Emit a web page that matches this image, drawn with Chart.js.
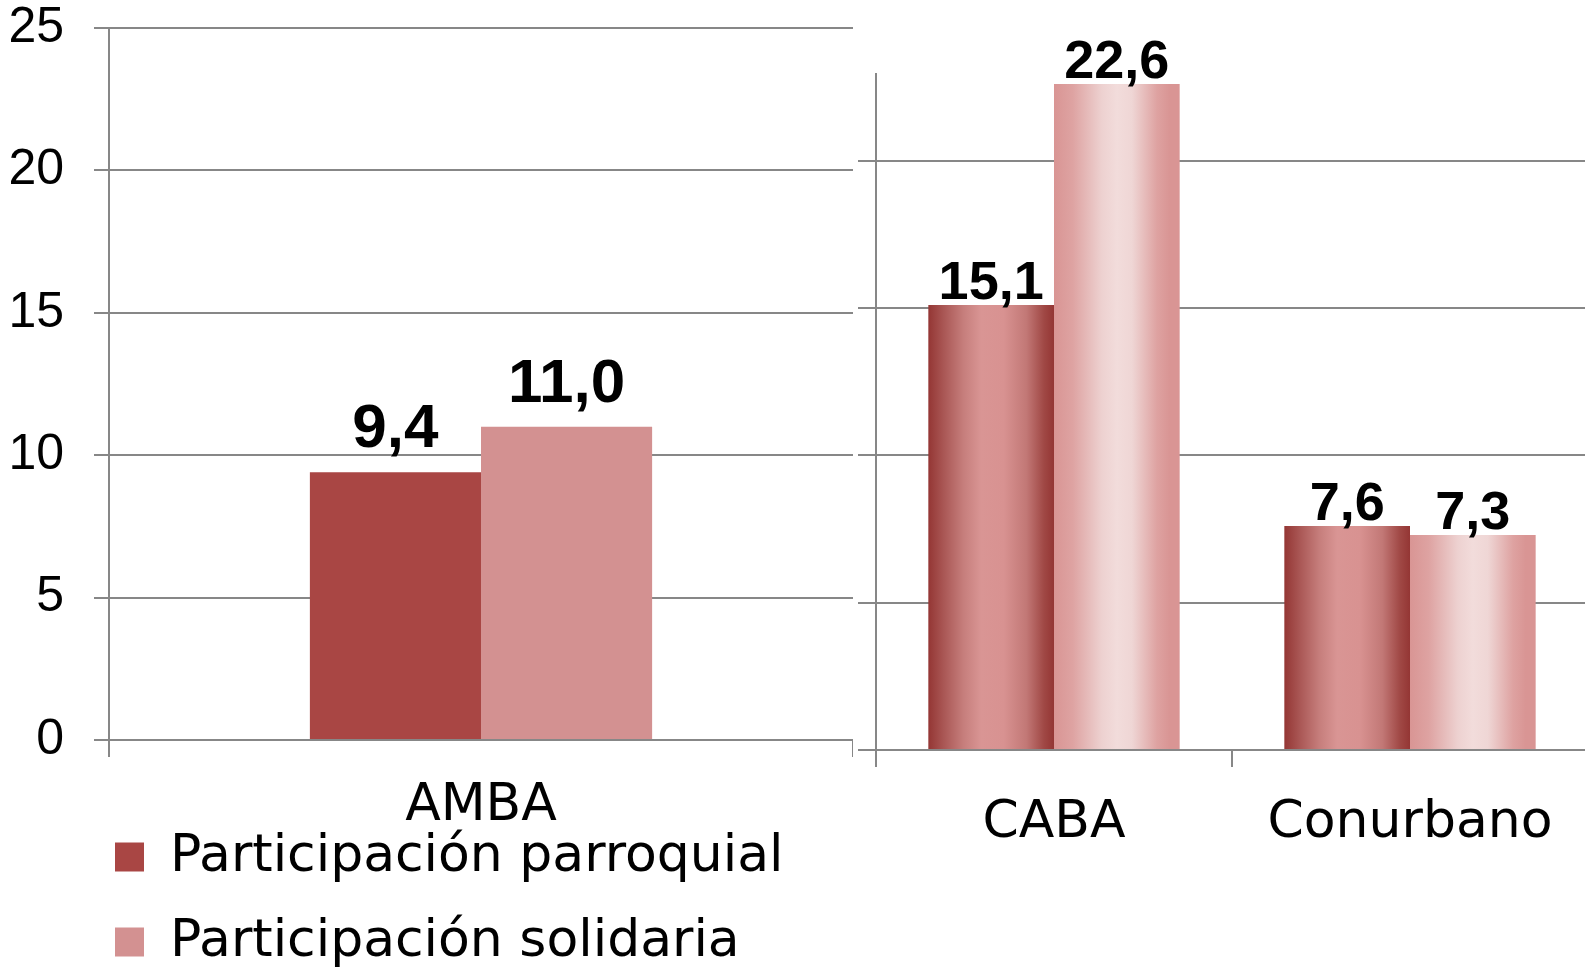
<!DOCTYPE html>
<html>
<head>
<meta charset="utf-8">
<script src="https://cdn.jsdelivr.net/npm/chart.js@4.4.1/dist/chart.umd.min.js"></script>
<style>
  html, body { margin: 0; padding: 0; background: #fff; overflow: hidden; width: 1585px; height: 968px; }
  #amba-chart { position: absolute; left: 0; top: 0; }
  #split-chart { position: absolute; left: 840px; top: 0; }
  #legend-chart { position: absolute; left: 82px; top: 798px; }
</style>
</head>
<body>
<canvas id="amba-chart" width="853" height="968"></canvas>
<canvas id="split-chart" width="748" height="968"></canvas>
<canvas id="legend-chart" width="720" height="420"></canvas>
<script>
// data
const seriesNames = ['Participación parroquial', 'Participación solidaria']
const ambaLabels = ['AMBA']
const ambaParroquial = [9.4]
const ambaSolidaria = [11.0]
const splitLabels = ['CABA', 'Conurbano']
const splitParroquial = [15.1, 7.6]
const splitSolidaria = [22.6, 7.3]

const gridColor = '#878787'
const parroquialColor = '#A94644'
const solidariaColor = '#D39191'

// value labels above the bars, decimal comma
const barLabels = {
    id: 'barLabels',
    afterDatasetsDraw(chart, args, opts) {
        if (!opts.font) return
        const ctx = chart.ctx
        ctx.save()
        ctx.font = opts.font
        ctx.fillStyle = '#000'
        ctx.textAlign = 'center'
        ctx.textBaseline = 'alphabetic'
        chart.data.datasets.forEach((ds, i) => {
            chart.getDatasetMeta(i).data.forEach((bar, j) => {
                ctx.fillText(ds.data[j].toFixed(1).replace('.', ','), bar.x, bar.y - opts.offset)
            })
        })
        ctx.restore()
    }
}

// horizontal "cylinder" gradient per bar
function barGradient(stops, catPct) {
    return (c) => {
        const chart = c.chart
        const x = chart.scales.x
        if (!x || c.dataIndex === undefined || !x.width) return stops[0][1]
        const cat = x.width / chart.data.labels.length
        const group = cat * catPct
        const w = group / chart.data.datasets.length
        const left = x.getPixelForValue(c.dataIndex) - group / 2 + c.datasetIndex * w
        const g = chart.ctx.createLinearGradient(left, 0, left + w, 0)
        stops.forEach(s => g.addColorStop(s[0], s[1]))
        return g
    }
}

//? AMBA chart
const ambaCatPct = 0.46

const configAmba = {
    type: 'bar',
    data: {
        labels: ambaLabels,
        datasets: [
            { label: seriesNames[0], data: ambaParroquial, backgroundColor: parroquialColor, borderWidth: 0 },
            { label: seriesNames[1], data: ambaSolidaria, backgroundColor: solidariaColor, borderWidth: 0 }
        ]
    },
    options: {
        responsive: false,
        animation: false,
        categoryPercentage: ambaCatPct,
        barPercentage: 1,
        layout: { padding: { left: 0, top: 28, right: 0, bottom: 0 } },
        scales: {
            x: {
                grid: { drawOnChartArea: false, color: gridColor, lineWidth: 2, tickLength: 17 },
                border: { display: false },
                ticks: { color: '#000', padding: 18, font: { family: 'DejaVu Sans', size: 52 } },
                afterFit: (s) => { s.height = 228 }
            },
            y: {
                min: 0,
                max: 25,
                grid: { color: gridColor, lineWidth: 2, tickLength: 15 },
                border: { color: gridColor, width: 2 },
                ticks: { stepSize: 5, color: '#000', padding: 30, font: { family: 'Liberation Sans', size: 50, lineHeight: 1 } },
                afterFit: (s) => { s.width = 109; s.paddingTop = 0; s.paddingBottom = 0 }
            }
        },
        plugins: {
            tooltip: { enabled: false },
            legend: { display: false },
            barLabels: { font: 'bold 62px "Liberation Sans"', offset: 25 }
        }
    },
    plugins: [barLabels]
}

const ambaChart = new Chart(document.getElementById('amba-chart'), configAmba)

//? Legend (shared by both panels)
const configLegend = {
    type: 'bar',
    data: {
        labels: ambaLabels,
        datasets: [
            { label: seriesNames[0], data: ambaParroquial, backgroundColor: parroquialColor, borderWidth: 0 },
            { label: seriesNames[1], data: ambaSolidaria, backgroundColor: solidariaColor, borderWidth: 0 }
        ]
    },
    options: {
        responsive: false,
        animation: false,
        scales: { x: { display: false }, y: { display: false } },
        plugins: {
            tooltip: { enabled: false },
            legend: {
                position: 'top',
                align: 'start',
                labels: {
                    boxWidth: 29,
                    boxHeight: 29,
                    padding: 33,
                    color: '#000',
                    font: { family: 'DejaVu Sans', size: 52 }
                }
            }
        }
    },
    plugins: [{
        id: 'hideBars',
        beforeDatasetsDraw: () => false
    }]
}

const legendChart = new Chart(document.getElementById('legend-chart'), configLegend)

//? CABA / Conurbano chart
const splitCatPct = 0.706

const configSplit = {
    type: 'bar',
    data: {
        labels: splitLabels,
        datasets: [
            {
                label: seriesNames[0],
                data: splitParroquial,
                borderWidth: 0,
                backgroundColor: barGradient([
                    [0, '#943634'], [0.12, '#A95654'], [0.28, '#C67E7C'], [0.42, '#D99594'],
                    [0.6, '#D89291'], [0.78, '#C27876'], [0.92, '#A04845'], [1, '#943634']
                ], splitCatPct)
            },
            {
                label: seriesNames[1],
                data: splitSolidaria,
                borderWidth: 0,
                backgroundColor: barGradient([
                    [0, '#D99594'], [0.15, '#DEA3A2'], [0.38, '#EDD1D0'], [0.5, '#F2DCDB'],
                    [0.62, '#EFD6D5'], [0.82, '#DEA2A1'], [0.92, '#D99594'], [1, '#D99594']
                ], splitCatPct)
            }
        ]
    },
    options: {
        responsive: false,
        animation: false,
        categoryPercentage: splitCatPct,
        barPercentage: 1,
        layout: { padding: { left: 0, top: 74, right: 0, bottom: 0 } },
        scales: {
            x: {
                grid: { drawOnChartArea: false, color: gridColor, lineWidth: 2, tickLength: 17 },
                border: { display: false },
                ticks: { color: '#000', padding: 25, font: { family: 'DejaVu Sans', size: 52 } },
                afterFit: (s) => { s.height = 218 }
            },
            y: {
                min: 0,
                max: 22.94,
                grid: { color: gridColor, lineWidth: 2, tickLength: 18 },
                border: { color: gridColor, width: 2 },
                ticks: { stepSize: 5, display: false },
                afterBuildTicks: (s) => { s.ticks = s.ticks.filter(t => t.value % 5 === 0) },
                afterFit: (s) => { s.width = 36 }
            }
        },
        plugins: {
            tooltip: { enabled: false },
            legend: { display: false },
            barLabels: { font: 'bold 54px "Liberation Sans"', offset: 6 }
        }
    },
    plugins: [barLabels]
}

const splitChart = new Chart(document.getElementById('split-chart'), configSplit)
</script>
</body>
</html>
